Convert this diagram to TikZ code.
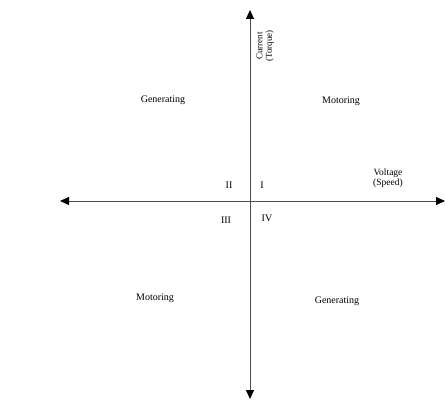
\documentclass[tikz,border=0pt]{standalone}
\usepackage{fontspec}
\setmainfont{Liberation Serif}
\usetikzlibrary{arrows.meta}

\begin{document}
\begin{tikzpicture}[
  x=1pt, y=-1pt, >=Triangle, font=\fontsize{10}{11}\selectfont,
  axis/.style={<->, gray!60!black, line width=0.9pt, >={Triangle[black,length=9pt,width=8pt]}},
  lbl/.style={inner sep=1pt, align=center},
]
  \useasboundingbox (0,0) rectangle (445,401);
  % axes
  \coordinate (top)    at (250,10);
  \coordinate (bottom) at (250,399);
  \coordinate (left)   at (60,201);
  \coordinate (right)  at (445,201);
  \draw[axis] (bottom) -- (top);
  \draw[axis] (left) -- (right);
  % axis labels
  \node[lbl, rotate=90, font=\fontsize{9}{9.5}\selectfont] (cur) at (265,46) {Current\\(Torque)};
  \node[lbl, font=\fontsize{9.5}{10.5}\selectfont] (volt) at (388,178) {Voltage\\(Speed)};
  % quadrant numbers
  \node[lbl] (q2) at (229,185) {II};
  \node[lbl] (q1) at (262,185) {I};
  \node[lbl] (q3) at (226,220) {III};
  \node[lbl] (q4) at (267,218) {IV};
  % operating modes
  \node[lbl] (gen1) at (163,100) {Generating};
  \node[lbl] (mot1) at (341,101) {Motoring};
  \node[lbl] (mot3) at (155,298) {Motoring};
  \node[lbl] (gen4) at (337,301) {Generating};
\end{tikzpicture}
\end{document}
